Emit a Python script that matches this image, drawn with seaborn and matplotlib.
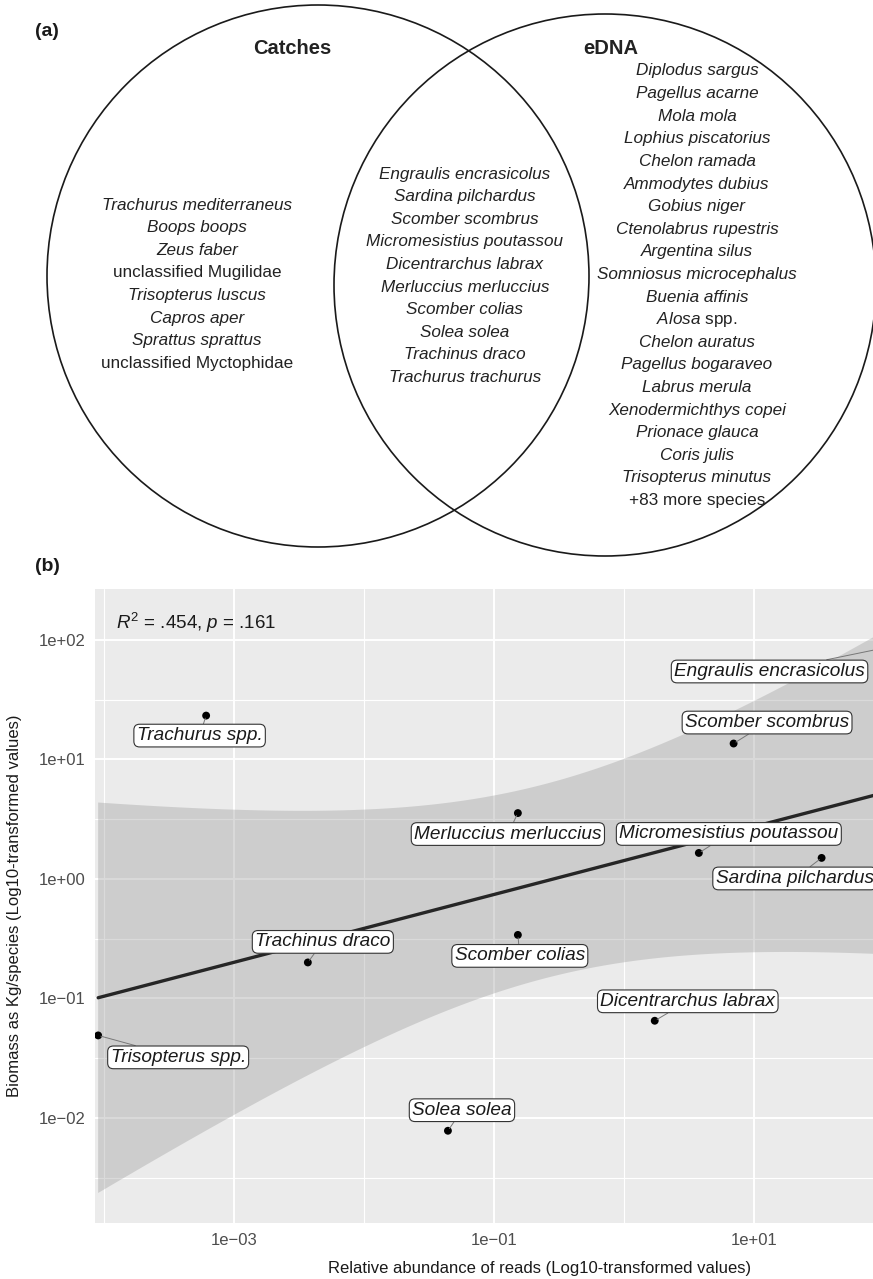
import numpy as np
import pandas as pd
import matplotlib
matplotlib.use("Agg")
import matplotlib.pyplot as plt
from matplotlib.patches import Circle
from matplotlib.ticker import FixedLocator, FixedFormatter, NullFormatter
import seaborn as sns

# ---------------------------------------------------------------- data
catches_only = ["Trachurus mediterraneus", "Boops boops", "Zeus faber",
                "unclassified Mugilidae", "Trisopterus luscus", "Capros aper",
                "Sprattus sprattus", "unclassified Myctophidae"]
shared = ["Engraulis encrasicolus", "Sardina pilchardus", "Scomber scombrus",
          "Micromesistius poutassou", "Dicentrarchus labrax",
          "Merluccius merluccius", "Scomber colias", "Solea solea",
          "Trachinus draco", "Trachurus trachurus"]
edna_only = ["Diplodus sargus", "Pagellus acarne", "Mola mola",
             "Lophius piscatorius", "Chelon ramada", "Ammodytes dubius",
             "Gobius niger", "Ctenolabrus rupestris", "Argentina silus",
             "Somniosus microcephalus", "Buenia affinis", "Alosa spp.",
             "Chelon auratus", "Pagellus bogaraveo", "Labrus merula",
             "Xenodermichthys copei", "Prionace glauca", "Coris julis",
             "Trisopterus minutus", "+83 more species"]

species = ["Trachurus spp.", "Trachinus draco", "Merluccius merluccius",
           "Scomber colias", "Micromesistius poutassou", "Sardina pilchardus",
           "Scomber scombrus", "Dicentrarchus labrax", "Solea solea",
           "Trisopterus spp.", "Engraulis encrasicolus"]
rel_reads = [6.1e-4, 3.7e-3, 0.153, 0.153, 3.78, 33.3, 7.0, 1.73, 0.0443,
             9.0e-5, 562.0]
biomass = [23.3, 0.20, 3.56, 0.34, 1.65, 1.50, 13.6, 0.065, 0.0078,
           0.049, 126.0]
stats_label = r"$R^2$ = .454, $p$ = .161"

x_major = [1e-3, 1e-1, 1e1]
x_minor = [1e-4, 1e-2, 1e0, 1e2]
y_major = [1e-2, 1e-1, 1e0, 1e1, 1e2]
y_minor = [10 ** v for v in (-2.5, -1.5, -0.5, 0.5, 1.5)]

# label offsets from each point (points), as a repel layout would place them
label_offsets = {
    "Trachurus spp.": (-4.7, -14.4),
    "Trachinus draco": (10.8, 14.8),
    "Merluccius merluccius": (-7.2, -15.1),
    "Scomber colias": (1.4, -15.1),
    "Micromesistius poutassou": (21.6, 13.7),
    "Sardina pilchardus": (-19.4, -14.8),
    "Scomber scombrus": (24.1, 15.1),
    "Dicentrarchus labrax": (23.8, 14.0),
    "Solea solea": (10.1, 14.8),
    "Trisopterus spp.": (57.6, -15.8),
    "Engraulis encrasicolus": (-152.3, -31.3),
}

# ---------------------------------------------------------------- style
sns.set_style("white")
plt.rcParams["font.family"] = ["Liberation Sans", "DejaVu Sans"]
plt.rcParams["mathtext.fontset"] = "custom"
plt.rcParams["mathtext.rm"] = "Liberation Sans"
plt.rcParams["mathtext.it"] = "Liberation Sans:italic"
plt.rcParams["mathtext.bf"] = "Liberation Sans:bold"

W, H = 873, 1279
fig = plt.figure(figsize=(W / 100, H / 100), dpi=100)
fig.patch.set_facecolor("white")

# ---------------------------------------------------------------- (a) Venn
top_h = 570
ax_a = fig.add_axes([0, 1 - top_h / H, 1, top_h / H])
ax_a.set_xlim(0, W)
ax_a.set_ylim(top_h, 0)
ax_a.axis("off")

ax_a.add_patch(Circle((318, 276), 271, fill=False, ec="#1a1a1a", lw=1.2))
ax_a.add_patch(Circle((605, 285), 271, fill=False, ec="#1a1a1a", lw=1.2))


def venn_label(name):
    if name.startswith("unclassified") or name.startswith("+"):
        return name, "normal"
    if name.endswith(" spp."):
        genus = name[:-5]
        return r"$\mathit{" + genus + "}$ spp.", "normal"
    return name, "italic"


def venn_column(names, xc, y0, step=22.6):
    for i, nm in enumerate(names):
        txt, style = venn_label(nm)
        ax_a.text(xc, y0 + i * step, txt, ha="center", va="center",
                  fontsize=12.3, fontstyle=style, color="#222222")


venn_column(catches_only, 197, 205)
venn_column(shared, 465, 174)
venn_column(edna_only, 697, 71)

ax_a.text(292, 49, "Catches", ha="center", va="center", fontsize=14.5,
          fontweight="bold", color="#222222")
ax_a.text(611, 49, "eDNA", ha="center", va="center", fontsize=14.5,
          fontweight="bold", color="#222222")
ax_a.text(47, 31, "(a)", ha="center", va="center", fontsize=14,
          fontweight="bold", color="#1a1a1a")

fig.text(47 / W, 1 - 567 / H, "(b)", ha="center", va="center", fontsize=14,
         fontweight="bold", color="#1a1a1a")

# ---------------------------------------------------------------- (b) scatter
p_left, p_right, p_top, p_bottom = 95, 985, 589, 1223
ax = fig.add_axes([p_left / W, 1 - p_bottom / H,
                   (p_right - p_left) / W, (p_bottom - p_top) / H])
ax.set_facecolor("#EBEBEB")
for s in ax.spines.values():
    s.set_visible(False)
ax.set_xscale("log")
ax.set_yscale("log")
ax.set_xlim(10 ** -4.07, 10 ** 2.78)
ax.set_ylim(10 ** -2.88, 10 ** 2.427)

df = pd.DataFrame({"species": species, "reads": rel_reads, "biomass": biomass})

# linear model on log10 values with 95% confidence band
lx = np.log10(df["reads"].to_numpy())
ly = np.log10(df["biomass"].to_numpy())
n = len(lx)
slope, intercept = np.polyfit(lx, ly, 1)
resid = ly - (slope * lx + intercept)
s_err = np.sqrt(np.sum(resid ** 2) / (n - 2))
sxx = np.sum((lx - lx.mean()) ** 2)
t_crit = 2.262  # t(0.975, df = 9)
grid = np.linspace(lx.min(), lx.max(), 300)
fit = slope * grid + intercept
half = t_crit * s_err * np.sqrt(1 / n + (grid - lx.mean()) ** 2 / sxx)

ax.fill_between(10 ** grid, 10 ** (fit - half), 10 ** (fit + half),
                color="#999999", alpha=0.36, lw=0, zorder=2)
sns.lineplot(x=10 ** grid, y=10 ** fit, ax=ax, color="#262626", lw=2.4,
             zorder=3)
sns.scatterplot(data=df, x="reads", y="biomass", ax=ax, color="black",
                s=32, edgecolor="none", zorder=4)

ax.xaxis.set_major_locator(FixedLocator(x_major))
ax.xaxis.set_minor_locator(FixedLocator(x_minor))
ax.yaxis.set_major_locator(FixedLocator(y_major))
ax.yaxis.set_minor_locator(FixedLocator(y_minor))
fmt = lambda v: f"{v:.0e}".replace("-", "\u2212")
ax.xaxis.set_major_formatter(FixedFormatter([fmt(v) for v in x_major]))
ax.yaxis.set_major_formatter(FixedFormatter([fmt(v) for v in y_major]))
ax.xaxis.set_minor_formatter(NullFormatter())
ax.yaxis.set_minor_formatter(NullFormatter())
ax.grid(which="major", color="white", lw=1.4, zorder=1)
ax.grid(which="minor", color="white", lw=0.8, zorder=1)
ax.set_axisbelow(True)
ax.tick_params(which="major", length=3.5, width=0.9, color="#333333",
               labelsize=12, labelcolor="#4D4D4D", pad=3.5)
ax.tick_params(which="minor", length=0)
ax.set_xlabel("")
ax.set_ylabel("")

for _, row in df.iterrows():
    ax.annotate(row["species"], xy=(row["reads"], row["biomass"]),
                xytext=label_offsets[row["species"]],
                textcoords="offset points", ha="center", va="center",
                fontsize=13.7, fontstyle="italic", color="#1a1a1a",
                annotation_clip=False, zorder=5,
                bbox=dict(boxstyle="round,pad=0.15,rounding_size=0.3",
                          fc="white", ec="#333333", lw=0.8),
                arrowprops=dict(arrowstyle="-", color="#777777", lw=0.7,
                                shrinkA=0, shrinkB=2))

ax.text((116 - p_left) / (p_right - p_left), (p_bottom - 623) / (p_bottom - p_top),
        stats_label, transform=ax.transAxes, ha="left", va="center",
        fontsize=13.5, color="#1a1a1a")

fig.text(540 / W, 1 - 1269 / H,
         "Relative abundance of reads (Log10-transformed values)",
         ha="center", va="center", fontsize=12, color="#1a1a1a")
fig.text(15 / W, 1 - 906 / H,
         "Biomass as Kg/species (Log10-transformed values)",
         ha="center", va="center", rotation=90, fontsize=12, color="#1a1a1a")

fig.savefig("out.png", dpi=100)
